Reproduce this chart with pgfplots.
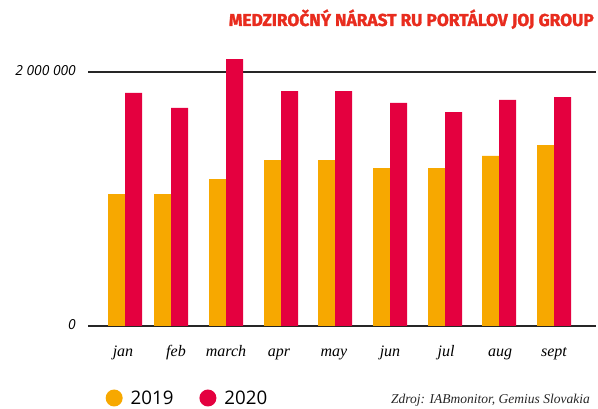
\documentclass[border=0pt]{standalone}
\usepackage{pgfplots}
\pgfplotsset{compat=1.18}
\usepackage{fontspec}
\setmainfont{Liberation Serif}
\newfontfamily\sansf{Open Sans}
\newfontfamily\titlef[BoldFeatures={FakeBold=1.6}]{Fira Sans}
\definecolor{c19}{RGB}{247,168,0}
\definecolor{c20}{RGB}{228,0,63}
\definecolor{ctitle}{RGB}{232,44,30}
\begin{document}
\begin{tikzpicture}[x=1pt,y=1pt]
\useasboundingbox (0,0) rectangle (598,409);
\begin{axis}[at={(88pt,83pt)}, anchor=south west, scale only axis,
  width=508pt, height=279.4pt,
  xmin=88, xmax=596, ymin=0, ymax=2200000,
  axis line style={draw=none}, major tick length=0pt,
  ytick={0,2000000}, yticklabels={0,2 000 000},
  ymajorgrids, major grid style={black!85, line width=1.2pt},
  xtick={123,176,226,279,334,390,446,500,554},
  xticklabels={jan,feb,march,apr,may,jun,jul,aug,sept},
  xticklabel style={font=\fontsize{16}{16}\selectfont\itshape, anchor=base, yshift=-31pt, inner sep=0pt},
  yticklabel style={font=\sansf\itshape\fontsize{13.8}{13.8}\selectfont, anchor=base east, xshift=-12pt, yshift=-4pt, inner sep=0pt},
  scaled y ticks=false,
  ybar, bar width=17,
  legend style={at={(0.0344,-0.2577)}, anchor=west, draw=none, fill=none, inner sep=0pt,
    nodes={inner sep=0pt}, font=\sansf\fontsize{18.7}{18.7}\selectfont,
    /tikz/every odd column/.append style={column sep=8pt},
    /tikz/every even column/.append style={column sep=26pt}},
  legend columns=2,
  legend image code/.code={\fill[#1] (8.5pt,0pt) circle (8.5pt);},
]
\addplot[fill=c19, draw=none, bar shift=-8.5] coordinates {
 (125,1039000) (171,1039000) (226,1157000) (281,1307000) (335,1307000)
 (390,1244000) (445,1244000) (499,1339000) (554,1425000)};
\addlegendentry{2019}
\addplot[fill=c20, draw=none, bar shift=8.5] coordinates {
 (125,1835000) (171,1717000) (226,2102000) (281,1850000) (335,1850000)
 (390,1756000) (445,1685000) (499,1780000) (554,1803000)};
\addlegendentry{2020}
\end{axis}
\node[anchor=base east, text=ctitle, font=\titlef\bfseries\fontsize{17.3}{17.3}\selectfont, inner sep=0pt] at (594,383) {MEDZIROČNÝ NÁRAST RU PORTÁLOV JOJ GROUP};
\node[anchor=base east, font=\itshape\fontsize{13.5}{13.5}\selectfont, inner sep=0pt, text=black!85] at (590,5) {Zdroj: IABmonitor, Gemius Slovakia};
\end{tikzpicture}
\end{document}
